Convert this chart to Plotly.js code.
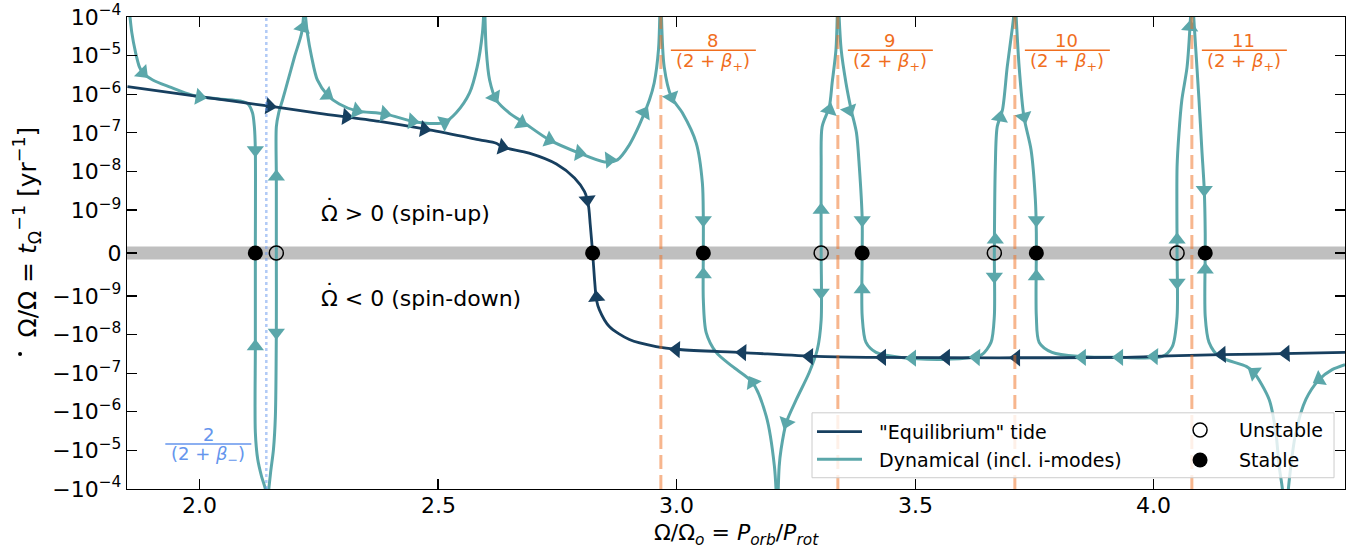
<!DOCTYPE html>
<html><head><meta charset="utf-8">
<script src="https://cdn.plot.ly/plotly-3.0.1.min.js"></script>
<style>body{margin:0;background:#fff}</style>
</head><body><div id="chart" style="width:1351px;height:549px"></div>
<script>
// ---------- symlog scale (linthresh 1e-9, linscale 1) ----------
const LT = 1e-9, LS = 1 / (1 - 1 / 10);
function sl(v){ if(v===null) return null; const a=Math.abs(v); return a<=LT ? v/LT*LS : Math.sign(v)*(LS+Math.log10(a/LT)); }

// ---------- data ----------
const xTickVals = [2.0, 2.5, 3.0, 3.5, 4.0];
const xTickText = ['2.0','2.5','3.0','3.5','4.0'];
const yTickVals = [1e-4,1e-5,1e-6,1e-7,1e-8,1e-9,0,-1e-9,-1e-8,-1e-7,-1e-6,-1e-5,-1e-4];

// "Equilibrium" tide
const eqX = [1.849,2.000,2.147,2.251,2.377,2.482,2.587,2.622,2.635,2.691,2.748,2.786,2.807,2.815,2.819,2.824,2.828,2.832,2.838,2.859,2.901,2.957,3.006,3.138,3.293,3.404,3.676,3.928,4.053,4.221,4.401];
const eqY = [1.57e-6,8.7e-7,4.9e-7,3.2e-7,1.98e-7,1.19e-7,6.6e-8,5.4e-8,4.3e-8,3.0e-8,1.57e-8,6.8e-9,3.0e-9,1.37e-9,6.6e-10,0,-6.2e-10,-1.25e-9,-2.26e-9,-6.2e-9,-1.35e-8,-2.05e-8,-2.44e-8,-2.93e-8,-3.7e-8,-3.9e-8,-4.0e-8,-3.9e-8,-3.5e-8,-3.2e-8,-2.9e-8];
const eqArrX = [2.147,2.308,2.471,2.635,2.813,2.832,2.999,3.138,3.278,3.431,3.565,3.712,4.143,4.277];
const eqArrY = [4.9e-7,2.6e-7,1.25e-7,4.3e-8,1.85e-9,-1.1e-9,-2.44e-8,-2.93e-8,-3.7e-8,-3.9e-8,-3.9e-8,-4.0e-8,-3.3e-8,-3.1e-8];
const eqArrA = [98,98,100,105,175,355,272,272,271,270,270,270,268,268];

// Dynamical tide (incl. i-modes), branches between resonances
const dynSegX = [
 [1.852,1.858,1.866,1.874,1.881,1.902,1.937,1.985,2.042,2.084,2.101,2.111,2.115,2.117,2.117,2.117,2.117,2.122,2.130,2.138,2.141],
 [2.141,2.149,2.155,2.159,2.161,2.161,2.161,2.161,2.166,2.174,2.184,2.199,2.214,2.219],
 [2.221,2.226,2.235,2.247,2.268,2.293,2.329,2.388,2.446,2.482,2.513,2.538,2.566,2.582,2.593,2.596],
 [2.598,2.601,2.608,2.622,2.649,2.681,2.733,2.796,2.849,2.876,2.901,2.922,2.943,2.953,2.962,2.965],
 [2.968,2.974,2.989,3.012,3.041,3.054,3.056,3.056,3.056,3.062,3.083,3.117,3.159,3.188,3.205,3.210],
 [3.212,3.215,3.219,3.230,3.251,3.278,3.295,3.303,3.303,3.303,3.305,3.320,3.326,3.334,3.337],
 [3.340,3.345,3.355,3.366,3.377,3.383,3.389,3.389,3.389,3.397,3.418,3.467,3.557,3.620,3.640,3.659,3.666,3.666,3.668,3.672,3.683,3.693,3.704,3.708],
 [3.711,3.718,3.728,3.743,3.752,3.754,3.754,3.754,3.760,3.787,3.844,3.928,4.018,4.039,4.049,4.049,4.049,4.053,4.059,4.070,4.078],
 [4.083,4.086,4.095,4.101,4.106,4.108,4.108,4.108,4.116,4.137,4.194,4.210,4.242,4.256,4.263,4.268,4.275],
 [4.279,4.285,4.298,4.319,4.347,4.374,4.401]
];
const dynSegY = [
 [2e-4,4e-5,1.2e-5,5.1e-6,3.6e-6,2.34e-6,1.55e-6,9.4e-7,7.5e-7,6.7e-7,5.7e-7,3.3e-7,1.43e-7,3.6e-8,0,-2.05e-8,-3.4e-6,-1.7e-5,-4.7e-5,-1e-4,-3e-4],
 [-3e-4,-3.7e-5,-9.4e-6,-1.32e-6,-8.9e-9,0,7.3e-9,1.43e-7,3.3e-7,7.1e-7,1.96e-6,9.2e-6,3.85e-5,1.5e-4],
 [1.5e-4,3.85e-5,9.2e-6,2.34e-6,9.6e-7,5.6e-7,3.7e-7,3.1e-7,2.0e-7,1.75e-7,1.85e-7,3.3e-7,1.08e-6,5.1e-6,3.85e-5,1.5e-4],
 [1.5e-4,1.4e-5,2.34e-6,7.1e-7,3.3e-7,1.8e-7,6.6e-8,3.0e-8,1.77e-8,2.0e-8,4.9e-8,1.6e-7,7.1e-7,1.96e-6,1.4e-5,1.5e-4],
 [1.5e-4,5.1e-6,8.5e-7,3.3e-7,5.5e-8,5.1e-9,8e-10,0,-1.25e-9,-8.9e-9,-2.9e-8,-6.7e-8,-1.74e-7,-1.32e-6,-2.6e-5,-3e-4],
 [-3e-4,-2.6e-5,-9.4e-6,-1.9e-6,-4.8e-7,-9.6e-8,-2.44e-8,-4.2e-9,0,1.32e-8,1.43e-7,4.7e-7,1.96e-6,1.4e-5,1.5e-4],
 [1.5e-4,1.4e-5,1.96e-6,3.9e-7,1.0e-7,1.32e-8,8e-10,0,-3.4e-9,-1.6e-8,-2.9e-8,-3.9e-8,-4.4e-8,-3.9e-8,-3.3e-8,-1.6e-8,-3.4e-9,0,1.32e-8,1.43e-7,3.9e-7,5.1e-6,5.5e-5,1.5e-4],
 [1.5e-4,5.1e-6,2.6e-7,3.6e-8,1.85e-9,4.7e-10,0,-3.4e-9,-1.6e-8,-2.9e-8,-3.7e-8,-3.9e-8,-3.7e-8,-2.05e-8,-3.4e-9,0,1.32e-8,1.0e-7,7.1e-7,5.1e-6,1.5e-4],
 [1.5e-4,3.85e-5,7.1e-7,3.6e-8,3.35e-9,4.7e-10,0,-3.4e-9,-1.6e-8,-3.7e-8,-6.7e-8,-9.6e-8,-4.8e-7,-3.4e-6,-2.6e-5,-6.8e-5,-3e-4],
 [-3e-4,-4.7e-5,-3.4e-6,-4.8e-7,-1.46e-7,-8.1e-8,-6.0e-8]
];
const dynArrX = [1.881,2.000,2.117,2.117, 2.161,2.161,2.216, 2.268,2.329,2.388,2.446,2.513, 2.618,2.675,2.733,2.796,2.859,2.932, 2.989,3.056,3.056,3.159, 3.230,3.303,3.303,3.320, 3.362,3.389,3.389,3.494,3.628,3.666,3.668,3.678, 3.728,3.754,3.754,3.850,3.928,4.001,4.049,4.049,4.076, 4.106,4.108,4.210, 4.347];
const dynArrY = [3.6e-6,8.5e-7,3.6e-8,-2.05e-8, -8.9e-9,7.3e-9,5.2e-5, 9.6e-7,3.7e-7,3.1e-7,2.0e-7,1.85e-7, 8.5e-7,1.8e-7,6.6e-8,3.0e-8,2.0e-8,3.3e-7, 8.5e-7,7.7e-10,-5.0e-10,-1.74e-7, -1.9e-6,-9.2e-10,1.0e-9,3.9e-7, 3.9e-7,7.7e-10,-8.5e-10,-4.1e-8,-3.9e-8,-5.5e-10,3.1e-10,2.5e-7, 2.6e-7,7.7e-10,-5.5e-10,-3.9e-8,-3.9e-8,-3.7e-8,-6.9e-10,3.1e-10,5.5e-5, 3.35e-9,-3.9e-10,-9.6e-8, -1.46e-7];
const dynArrA = [135,100,180,0, 180,0,15, 125,105,100,97,65, 150,120,112,100,85,30, 160,180,0,330, 200,180,0,15, 160,180,0,270,272,180,0,10, 165,180,0,270,270,272,180,0,5, 180,0,305, 240];

// Fixed points (spin rate where dΩ/dt = 0)
const stableX = [2.117, 2.824, 3.056, 3.389, 3.754, 4.108];
const unstableX = [2.161, 3.303, 3.666, 4.049];

// Resonance locations k/(2+β+) and 2/(2+β-)
const resK = ['8','9','10','11'];
const resX = [2.967, 3.338, 3.709, 4.080];
const resMinusX = 2.140;

// ---------- build ----------
const teal = '#5ba7aa', navy = '#173f5f', orange = '#f06e1e', blue = '#6495ed';
const FONT = 'DejaVu Sans, Verdana, sans-serif';
const NB = '\u00a0';
let dX = [], dY = [];
dynSegX.forEach((s,i)=>{ if(i>0){dX.push(null); dY.push(null);} dX = dX.concat(s); dY = dY.concat(dynSegY[i]); });
const zeros = a => a.map(()=>0);

const traces = [
 {x: dX, y: dY.map(sl), mode:'lines', name:NB+NB+'Dynamical (incl. i-modes)', line:{color:teal, width:3, shape:'spline', smoothing:0.8}, legendrank:2},
 {x: eqX, y: eqY.map(sl), mode:'lines', name:NB+NB+'"Equilibrium" tide', line:{color:navy, width:2.8, shape:'spline', smoothing:0.8}, legendrank:1},
 {x: eqArrX, y: eqArrY.map(sl), mode:'markers', showlegend:false, marker:{symbol:'triangle-up', size:15, color:navy, angle:eqArrA}},
 {x: dynArrX, y: dynArrY.map(sl), mode:'markers', showlegend:false, marker:{symbol:'triangle-up', size:15, color:teal, angle:dynArrA}},
 {x: unstableX, y: zeros(unstableX).map(sl), mode:'markers', name:'Unstable', showlegend:false, marker:{symbol:'circle-open', size:14, color:'#000', line:{width:1.5}}},
 {x: stableX, y: zeros(stableX).map(sl), mode:'markers', name:'Stable', showlegend:false, marker:{symbol:'circle', size:15, color:'#000'}}
];

const shapes = [
 {type:'line', xref:'paper', x0:0, x1:1, yref:'y', y0:sl(0), y1:sl(0), line:{color:'#bfbfbf', width:13}, layer:'below'},
 {type:'line', xref:'x', x0:resMinusX, x1:resMinusX, yref:'paper', y0:0, y1:1, line:{color:'rgba(100,149,237,0.5)', width:2.5, dash:'dot'}, layer:'above'}
];
const annotations = [];
const ann = (o) => annotations.push(Object.assign({showarrow:false, xanchor:'center', yanchor:'middle'}, o));
resX.forEach((rx,i)=>{
  shapes.push({type:'line', xref:'x', x0:rx, x1:rx, yref:'paper', y0:0, y1:1, line:{color:'rgba(240,110,30,0.5)', width:3, dash:'14px,6px'}, layer:'above'});
  shapes.push({type:'line', xref:'x', xsizemode:'pixel', xanchor:rx, x0:10, x1:95, yref:'paper', y0:0.9295, y1:0.9295, line:{color:orange, width:1.6}, layer:'above'});
  ann({x:rx, xref:'x', xshift:52, y:0.9507, yref:'paper', text:resK[i], font:{family:FONT, size:18, color:orange}});
  ann({x:rx, xref:'x', xshift:52, y:0.905, yref:'paper', text:'(2 + <i>β</i><sub>+</sub>)', font:{family:FONT, size:18, color:orange}});
});
shapes.push({type:'line', xref:'x', xsizemode:'pixel', xanchor:resMinusX, x0:-101, x1:-15, yref:'paper', y0:0.0952, y1:0.0952, line:{color:blue, width:1.6}, layer:'above'});
ann({x:resMinusX, xref:'x', xshift:-58, y:0.1149, yref:'paper', text:'2', font:{family:FONT, size:18, color:blue}});
ann({x:resMinusX, xref:'x', xshift:-58, y:0.071, yref:'paper', text:'(2 + <i>β</i><sub>−</sub>)', font:{family:FONT, size:18, color:blue}});
// region labels (dot over Omega drawn as a separate accent)
ann({x:2.251, xref:'x', xanchor:'left', y:0.5846, yref:'paper', text:'Ω > 0 (spin-up)', font:{family:FONT, size:22, color:'#000'}});
ann({x:2.251, xref:'x', xanchor:'left', xshift:3, y:0.5846, yref:'paper', yshift:7, text:'˙', font:{family:FONT, size:22, color:'#000'}});
ann({x:2.251, xref:'x', xanchor:'left', y:0.4035, yref:'paper', text:'Ω < 0 (spin-down)', font:{family:FONT, size:22, color:'#000'}});
ann({x:2.251, xref:'x', xanchor:'left', xshift:3, y:0.4035, yref:'paper', yshift:7, text:'˙', font:{family:FONT, size:22, color:'#000'}});
// x tick labels
xTickVals.forEach((v,i)=> ann({x:v, xref:'x', y:0, yref:'paper', yshift:-16, text:xTickText[i], font:{family:FONT, size:22, color:'#000'}}));
// axis titles
ann({x:0.5, xref:'paper', y:0, yref:'paper', yshift:-45, text:'Ω/Ω<sub><i>o</i></sub> = <i>P</i><sub><i>orb</i></sub>/<i>P</i><sub><i>rot</i></sub>', font:{family:FONT, size:22, color:'#000'}});
ann({x:-0.0813, xref:'paper', y:0.5456, yref:'paper', textangle:-90, text:'Ω/Ω = <i>t</i><sub>Ω</sub><sup>−1</sup> [yr<sup>−1</sup>]', font:{family:FONT, size:25, color:'#000'}});
// dot accent of the rotated Ω in the y title
shapes.push({type:'circle', xref:'paper', xsizemode:'pixel', xanchor:-0.0878, x0:-2, x1:2, yref:'paper', ysizemode:'pixel', yanchor:0.2860, y0:-2, y1:2, line:{width:0}, fillcolor:'#000'});
// legend frame + right-hand legend column (fixed-point symbols)
shapes.push({type:'rect', xref:'paper', yref:'paper', x0:0.5624, x1:0.991, y0:0.0239, y1:0.1614, fillcolor:'rgba(255,255,255,0.8)', line:{color:'#cccccc', width:1}, layer:'above'});
shapes.push({type:'circle', xref:'paper', xsizemode:'pixel', xanchor:0.881, x0:-7, x1:7, yref:'paper', ysizemode:'pixel', yanchor:0.125, y0:-7, y1:7, line:{color:'#000', width:1.5}, fillcolor:'rgba(0,0,0,0)', layer:'above'});
shapes.push({type:'circle', xref:'paper', xsizemode:'pixel', xanchor:0.881, x0:-7.5, x1:7.5, yref:'paper', ysizemode:'pixel', yanchor:0.0614, y0:-7.5, y1:7.5, line:{color:'#000', width:0}, fillcolor:'#000', layer:'above'});
ann({x:0.9113, xref:'paper', xanchor:'left', y:0.125, yref:'paper', text:'Unstable', font:{family:FONT, size:19, color:'#000'}});
ann({x:0.9113, xref:'paper', xanchor:'left', y:0.0614, yref:'paper', text:'Stable', font:{family:FONT, size:19, color:'#000'}});

const axisCommon = {showline:true, linecolor:'#000', linewidth:1.2, mirror:'allticks', ticks:'inside', ticklen:10, tickwidth:1.2, tickcolor:'#000', showgrid:false, zeroline:false, automargin:false, tickfont:{family:FONT, size:22, color:'#000'}};
const layout = {
  width:1351, height:549, margin:{l:127, r:6, t:17, b:60},
  paper_bgcolor:'#fff', plot_bgcolor:'#fff', font:{family:FONT, color:'#000'},
  xaxis: Object.assign({}, axisCommon, {range:[1.848, 4.401], tickmode:'array', tickvals:xTickVals, showticklabels:false}),
  yaxis: Object.assign({}, axisCommon, {range:[sl(-1e-4), sl(1e-4)], tickmode:'array', tickvals:yTickVals.map(sl),
     ticktext:yTickVals.map(v=> v===0 ? '0' : (v<0?'−':'')+'10<sup>−'+Math.round(-Math.log10(Math.abs(v)))+'</sup>')}),
  showlegend:true,
  legend:{x:0.5624, y:0.1614, xanchor:'left', yanchor:'top', bgcolor:'rgba(0,0,0,0)', borderwidth:0, font:{family:FONT, size:19}, itemwidth:45, traceorder:'normal'},
  shapes:shapes, annotations:annotations
};
Plotly.newPlot('chart', traces, layout, {displayModeBar:false, staticPlot:true});
</script></body></html>
